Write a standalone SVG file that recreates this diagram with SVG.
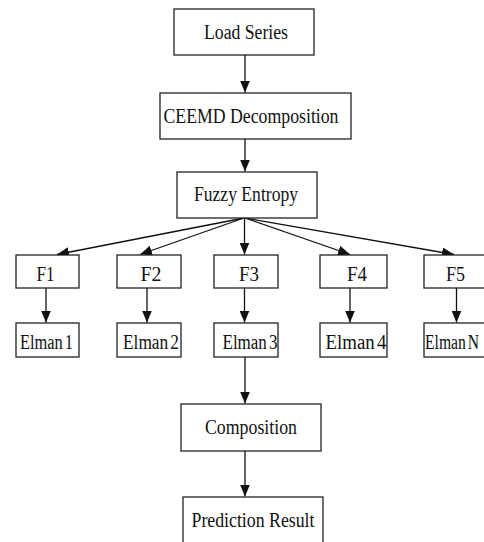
<svg xmlns="http://www.w3.org/2000/svg" width="484" height="542" viewBox="0 0 484 542">
<style>
.box{fill:#fff;stroke:#222;stroke-width:1.3}
.lbl{font-family:"Liberation Serif","Times New Roman",serif;font-size:20px;fill:#111;text-anchor:middle}
.ws{word-spacing:-2.5px}
.con line{stroke:#111;stroke-width:1.3;fill:none}
</style>
<defs>
<marker id="ah" viewBox="0 0 12 10" refX="12" refY="5" markerWidth="12" markerHeight="10" markerUnits="userSpaceOnUse" orient="auto">
<path d="M0,0 L12,5 L0,10 Z" fill="#111"/>
</marker>
</defs>
<g id="connectors" class="con">
<line x1="245" y1="55" x2="245" y2="92.5" marker-end="url(#ah)"/>
<line x1="245" y1="139" x2="245" y2="171.5" marker-end="url(#ah)"/>
<line x1="244" y1="218" x2="57" y2="254.5" marker-end="url(#ah)"/>
<line x1="244" y1="218" x2="140" y2="254.5" marker-end="url(#ah)"/>
<line x1="244.5" y1="218" x2="244.5" y2="254.5" marker-end="url(#ah)"/>
<line x1="245" y1="218" x2="350" y2="254.5" marker-end="url(#ah)"/>
<line x1="245" y1="218" x2="454" y2="254.5" marker-end="url(#ah)"/>
<line x1="46" y1="288" x2="46" y2="322.5" marker-end="url(#ah)"/>
<line x1="147" y1="288" x2="147" y2="322.5" marker-end="url(#ah)"/>
<line x1="244.5" y1="288" x2="244.5" y2="322.5" marker-end="url(#ah)"/>
<line x1="350" y1="288" x2="350" y2="322.5" marker-end="url(#ah)"/>
<line x1="456.5" y1="288" x2="456.5" y2="322.5" marker-end="url(#ah)"/>
<line x1="245" y1="357" x2="245" y2="403.5" marker-end="url(#ah)"/>
<line x1="245" y1="451" x2="245" y2="496.5" marker-end="url(#ah)"/>
</g>
<g id="load-series"><rect class="box" x="174" y="9" width="140" height="46"/><text class="lbl" x="246" y="39" textLength="84" lengthAdjust="spacingAndGlyphs">Load Series</text></g>
<g id="ceemd"><rect class="box" x="160" y="93" width="191" height="46"/><text class="lbl" x="251" y="123" textLength="175" lengthAdjust="spacingAndGlyphs">CEEMD Decomposition</text></g>
<g id="fuzzy-entropy"><rect class="box" x="177" y="172" width="140" height="46"/><text class="lbl" x="246" y="201" textLength="104" lengthAdjust="spacingAndGlyphs">Fuzzy Entropy</text></g>
<g id="f1"><rect class="box" x="16" y="255" width="63" height="33"/><text class="lbl" x="45.5" y="281" textLength="18" lengthAdjust="spacingAndGlyphs">F1</text></g>
<g id="f2"><rect class="box" x="117" y="255" width="64" height="33"/><text class="lbl" x="151" y="281" textLength="21" lengthAdjust="spacingAndGlyphs">F2</text></g>
<g id="f3"><rect class="box" x="214" y="255" width="64" height="33"/><text class="lbl" x="249" y="281" textLength="20" lengthAdjust="spacingAndGlyphs">F3</text></g>
<g id="f4"><rect class="box" x="320" y="255" width="67" height="33"/><text class="lbl" x="357" y="281" textLength="20" lengthAdjust="spacingAndGlyphs">F4</text></g>
<g id="f5"><rect class="box" x="424" y="255" width="70" height="33"/><text class="lbl" x="455.5" y="281" textLength="19" lengthAdjust="spacingAndGlyphs">F5</text></g>
<g id="elman1"><rect class="box" x="16" y="323" width="63" height="34"/><text class="lbl ws" x="46.5" y="349" textLength="53" lengthAdjust="spacingAndGlyphs">Elman 1</text></g>
<g id="elman2"><rect class="box" x="117" y="323" width="64" height="34"/><text class="lbl ws" x="151" y="349" textLength="56" lengthAdjust="spacingAndGlyphs">Elman 2</text></g>
<g id="elman3"><rect class="box" x="214" y="323" width="64" height="34"/><text class="lbl ws" x="250" y="349" textLength="55" lengthAdjust="spacingAndGlyphs">Elman 3</text></g>
<g id="elman4"><rect class="box" x="320" y="323" width="67" height="34"/><text class="lbl ws" x="356" y="349" textLength="61" lengthAdjust="spacingAndGlyphs">Elman 4</text></g>
<g id="elmanN"><rect class="box" x="424" y="323" width="70" height="34"/><text class="lbl ws" x="452" y="349" textLength="54" lengthAdjust="spacingAndGlyphs">Elman N</text></g>
<g id="composition"><rect class="box" x="181" y="404" width="140" height="47"/><text class="lbl" x="251" y="434" textLength="92" lengthAdjust="spacingAndGlyphs">Composition</text></g>
<g id="prediction-result"><rect class="box" x="183" y="497" width="140" height="60"/><text class="lbl" x="253" y="527" textLength="123" lengthAdjust="spacingAndGlyphs">Prediction Result</text></g>
</svg>
